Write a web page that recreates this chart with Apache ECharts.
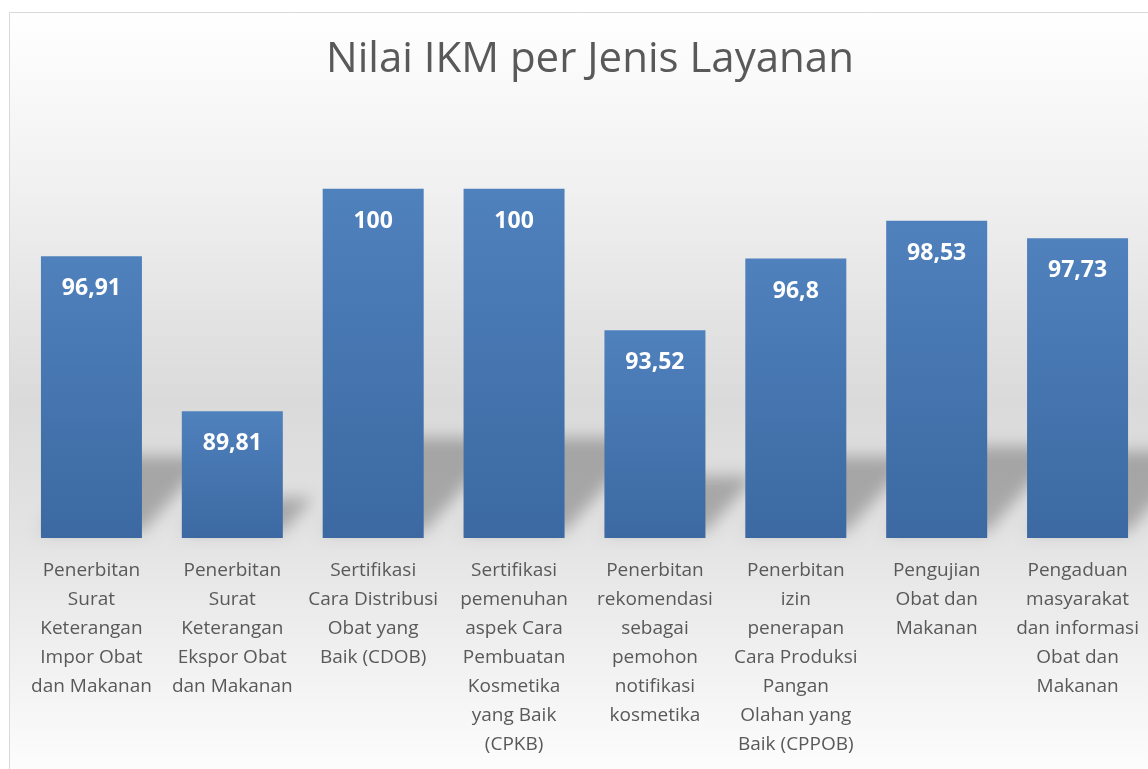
<!DOCTYPE html>
<html>
<head>
<meta charset="utf-8">
<title>Nilai IKM per Jenis Layanan</title>
<script src="https://cdn.jsdelivr.net/npm/echarts@6/dist/echarts.min.js"></script>
<style>
  html, body { margin: 0; padding: 0; background: #fff; }
  #chart { width: 1148px; height: 769px; }
</style>
</head>
<body>
<div id="chart"></div>
<script>
// data
let layanan = [
  'Penerbitan\nSurat\nKeterangan\nImpor Obat\ndan Makanan',
  'Penerbitan\nSurat\nKeterangan\nEkspor Obat\ndan Makanan',
  'Sertifikasi\nCara Distribusi\nObat yang\nBaik (CDOB)',
  'Sertifikasi\npemenuhan\naspek Cara\nPembuatan\nKosmetika\nyang Baik\n(CPKB)',
  'Penerbitan\nrekomendasi\nsebagai\npemohon\nnotifikasi\nkosmetika',
  'Penerbitan\nizin\npenerapan\nCara Produksi\nPangan\nOlahan yang\nBaik (CPPOB)',
  'Pengujian\nObat dan\nMakanan',
  'Pengaduan\nmasyarakat\ndan informasi\nObat dan\nMakanan'
];
let nilaiIKM = [96.91, 89.81, 100, 100, 93.52, 96.8, 98.53, 97.73];
let yMin = 84, yMax = 102;

let font = 'Open Sans';
let chart = echarts.init(document.getElementById('chart'));

// bayangan miring di belakang batang (gaya excel)
// bentuk digambar di luar layar, hanya bayangan blur-nya yang digeser masuk
function shadowItem(params, api) {
  let base = api.coord([api.value(0), yMin]);
  let top = api.coord([api.value(0), api.value(1)]);
  let w = api.size([1, 0])[0] * 0.717;
  let h = (base[1] - top[1]) * 0.27;
  let dx = h * 0.9;
  let x0 = base[0] - w / 2, x1 = base[0] + w / 2, y = base[1] - 6;
  let off = 2000;
  return {
    type: 'polygon',
    shape: { points: [[x0 - off, y], [x1 - off, y], [x1 + dx - off, y - h], [x0 + dx - off, y - h]] },
    style: {
      fill: '#000',
      shadowColor: 'rgba(0,0,0,0.26)',
      shadowBlur: 16,
      shadowOffsetX: off
    }
  };
}

chart.setOption({
  animation: false,
  graphic: [{
    type: 'rect',
    z: -10,
    silent: true,
    shape: { x: 9.5, y: 12.5, width: 1160, height: 780 },
    style: {
      stroke: '#d9d9d9',
      lineWidth: 1,
      fill: {
        type: 'linear', x: 0, y: 0, x2: 0, y2: 1,
        colorStops: [
          { offset: 0, color: '#ffffff' },
          { offset: 0.22, color: '#f1f1f1' },
          { offset: 0.5, color: '#dadada' },
          { offset: 0.68, color: '#e4e4e4' },
          { offset: 1, color: '#ffffff' }
        ]
      }
    }
  }],
  title: {
    text: 'Nilai IKM per Jenis Layanan',
    left: 585,
    top: 34,
    textAlign: 'center',
    textStyle: { fontFamily: font, fontSize: 42, fontWeight: 'normal', color: '#595959' }
  },
  grid: { left: 21, right: 0, top: 145, bottom: 231 },
  xAxis: {
    type: 'category',
    data: layanan,
    axisTick: { show: false },
    axisLine: { show: false },
    axisLabel: {
      interval: 0,
      margin: 18,
      color: '#595959',
      fontFamily: font,
      fontSize: 19,
      lineHeight: 29,
      align: 'center'
    }
  },
  yAxis: {
    type: 'value',
    min: yMin,
    max: yMax,
    interval: 2,
    show: false
  },
  series: [
    {
      type: 'custom',
      clip: false,
      silent: true,
      z: 1,
      data: nilaiIKM.map((v, i) => [i, v]),
      renderItem: shadowItem
    },
    {
      type: 'bar',
      z: 2,
      data: nilaiIKM,
      barWidth: '71.7%',
      itemStyle: {
        color: {
          type: 'linear', x: 0, y: 0, x2: 0, y2: 1,
          colorStops: [
            { offset: 0, color: '#4f81bd' },
            { offset: 1, color: '#3c69a1' }
          ]
        }
      },
      label: {
        show: true,
        position: 'insideTop',
        distance: 21,
        color: '#ffffff',
        fontFamily: font,
        fontSize: 23,
        fontWeight: 'bold',
        formatter: p => String(p.value).replace('.', ',')
      }
    }
  ]
});
</script>
</body>
</html>
